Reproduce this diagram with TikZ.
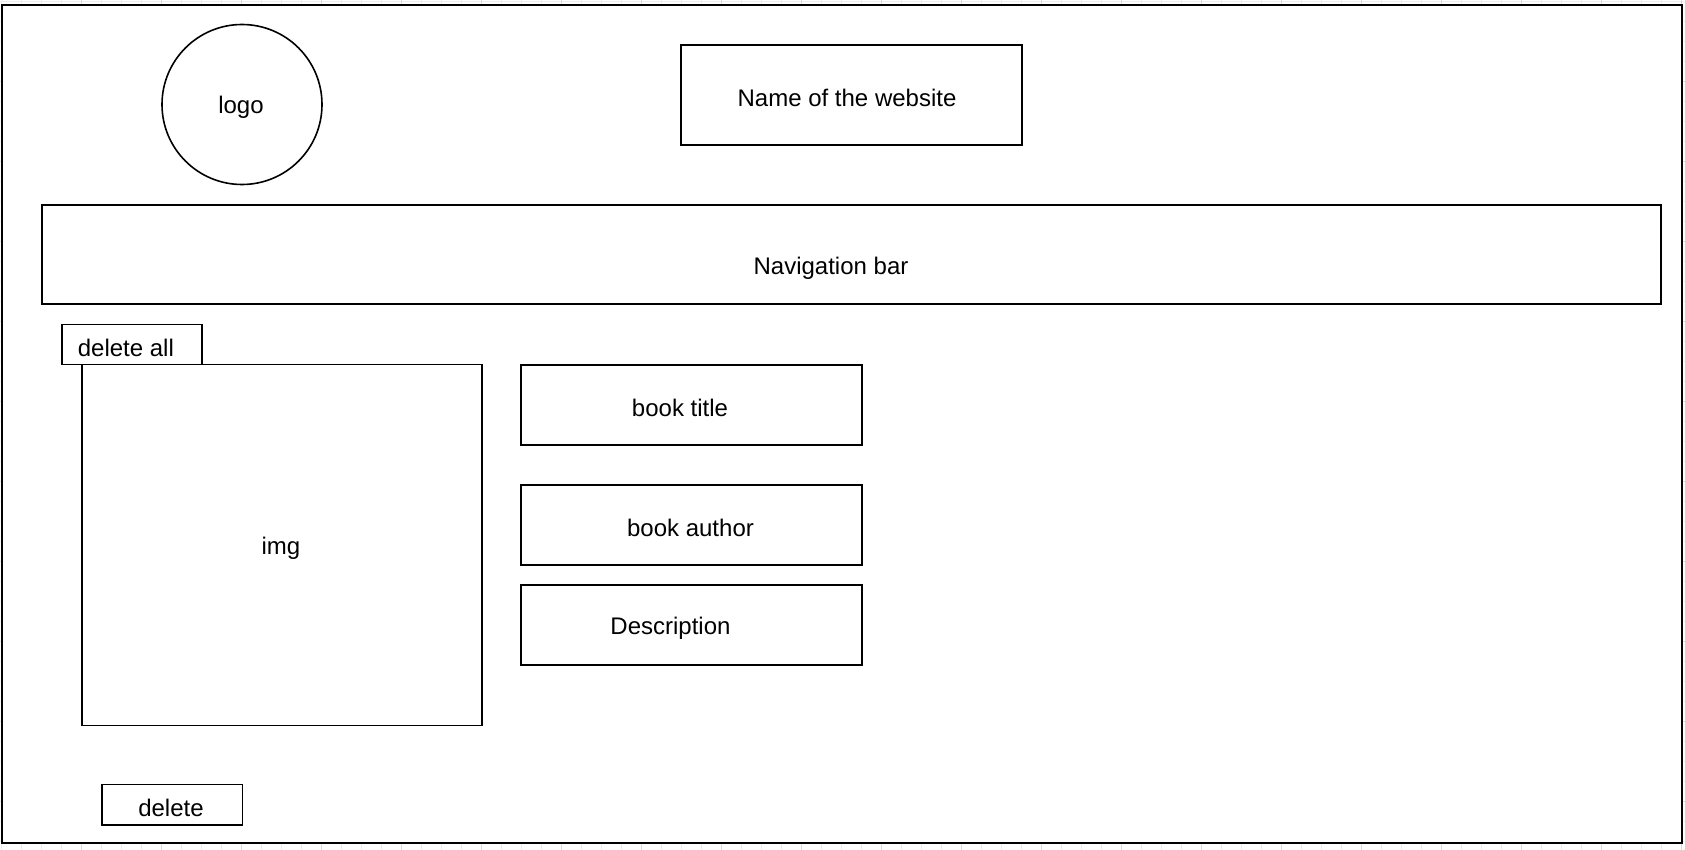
\documentclass[tikz,border=0pt]{standalone}
\usepackage{fontspec}
\setmainfont{Liberation Sans}
\tikzset{
  box/.style={draw, line width=0.8pt, inner sep=0pt},
  tag/.style={font=\fontsize{12}{14}\selectfont, yshift=-1.6pt},
  gridminor/.style={gray!14, line width=0.4pt},
  gridmajor/.style={gray!28, line width=0.4pt}
}
\begin{document}
\begin{tikzpicture}[x=0.5pt,y=-0.5pt]
  \useasboundingbox (0,0) rectangle (1685,850);
  % background grid
  \foreach \gx in {1.7,21.7,...,1685} \draw[gridminor] (\gx,0) -- (\gx,850);
  \foreach \gy in {1.7,21.7,...,850} \draw[gridminor] (0,\gy) -- (1685,\gy);
  \foreach \gx in {81.7,161.7,...,1685} \draw[gridmajor] (\gx,0) -- (\gx,850);
  \foreach \gy in {81.7,161.7,...,850} \draw[gridmajor] (0,\gy) -- (1685,\gy);
  % page
  \node[box, fill=white, line width=1pt, minimum width=840pt, minimum height=419pt] (page) at (842,424) {};
  % header
  \node[box, circle, minimum size=80pt,
    label={[tag, xshift=-0.5pt]center:logo}] (logo) at (242,104.5) {};
  \node[box, minimum width=170.5pt, minimum height=50pt,
    label={[tag, xshift=-2.25pt]center:Name of the website}] (sitename) at (851.5,95) {};
  \node[box, minimum width=809.5pt, minimum height=49.5pt,
    label={[tag, xshift=-10.25pt, yshift=-5pt]center:Navigation bar}] (navbar) at (851.5,254.7) {};
  % book
  \node[box, minimum width=200pt, minimum height=180.5pt,
    label={[tag, xshift=-0.5pt]center:img}] (img) at (281.85,544.85) {};
  \node[box, minimum width=70pt, minimum height=20pt,
    label={[tag, xshift=-3pt]center:delete all}] (deleteall) at (131.85,344.3) {};
  \node[box, minimum width=170.5pt, minimum height=40pt,
    label={[tag, xshift=-5.75pt]center:book title}] (title) at (691.5,405) {};
  \node[box, minimum width=170.5pt, minimum height=40pt,
    label={[tag, xshift=-0.5pt]center:book author}] (author) at (691.5,525) {};
  \node[box, minimum width=170.5pt, minimum height=40pt,
    label={[tag, xshift=-10.5pt]center:Description}] (desc) at (691.5,625) {};
  \node[box, minimum width=70.3pt, minimum height=20.35pt,
    label={[tag, xshift=-0.5pt]center:delete}] (delete) at (172,804.65) {};
\end{tikzpicture}
\end{document}
